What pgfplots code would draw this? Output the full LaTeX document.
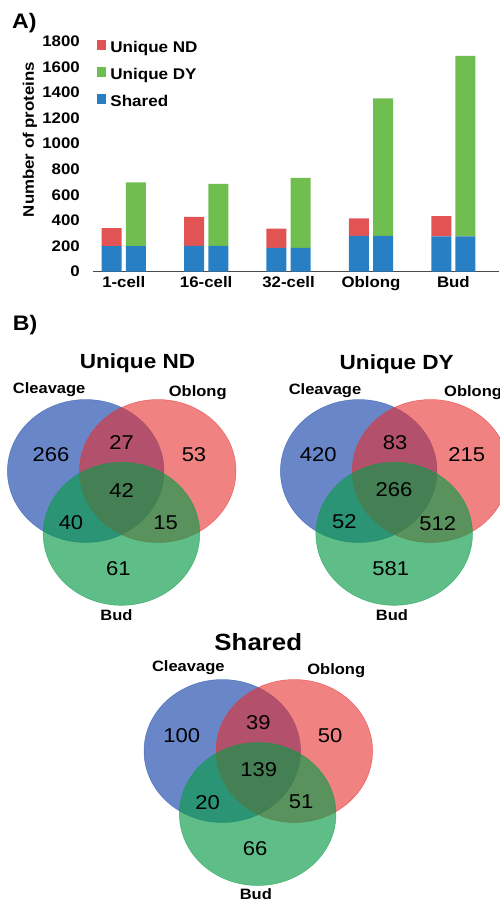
\documentclass[border=0pt]{standalone}
\usepackage{pgfplots}
\usepackage{pgfplotstable}
\pgfplotsset{compat=1.18}
\usepackage{fontspec}
\setmainfont{Liberation Sans}[FakeStretch=1.1]
\definecolor{barred}{RGB}{226,84,84}
\definecolor{bargreen}{RGB}{112,190,80}
\definecolor{barblue}{RGB}{40,127,196}
\definecolor{vblue}{RGB}{41,84,176}
\definecolor{vred}{RGB}{230,47,47}
\definecolor{vgreen}{RGB}{9,155,71}

\pgfplotstableread{
x shared nd dy
0 199 141 498
1 202 226 484
2 186 151 547
3 279 137 1076
4 276 158 1411
}\bars

\pgfplotsset{
  barax/.style={
    scale only axis, width=405.4pt, height=230.4pt,
    at={(93.3pt,-271.7pt)}, anchor=south west,
    xmin=-0.37, xmax=4.55, ymin=0, ymax=1800,
    ybar stacked, bar width=20pt,
    axis x line*=bottom, axis y line*=left,
    y axis line style={draw=none},
    x axis line style={draw=black!70, line width=0.8pt},
    tick style={draw=none},
    xtick={0,...,4}, xticklabels={1-cell,16-cell,32-cell,Oblong,Bud},
    ytick={0,200,...,1800},
    /pgf/number format/1000 sep={},
    /pgf/number format/assume math mode=true,
    yticklabel style={anchor=east, inner sep=0pt, xshift=-13.3pt, font=\fontsize{15.3}{18}\selectfont\bfseries},
    xticklabel style={anchor=base, inner sep=0pt, yshift=-15.6pt, font=\fontsize{15.3}{18}\selectfont\bfseries},
  },
}
\tikzset{
  vnum/.style={inner sep=0pt, font=\fontsize{20}{23}\selectfont},
  vlab/.style={inner sep=0pt, anchor=base, font=\fontsize{15}{18}\selectfont\bfseries},
  vtitle/.style={inner sep=0pt, anchor=base, font=\fontsize{20.5}{24}\selectfont\bfseries},
}

\begin{document}
\begin{tikzpicture}
% ---------------- Panel A ----------------
\begin{axis}[barax, bar shift=-12.1pt]
  \addplot[fill=barblue, draw=none] table[x=x, y=shared] {\bars};
  \addplot[fill=barred, draw=none] table[x=x, y=nd] {\bars};
\end{axis}
\begin{axis}[barax, bar shift=12.1pt, hide axis,
    legend image code/.code={\fill[#1] (0pt,-1pt) rectangle (9.5pt,8.5pt);},
    legend cell align=left,
    legend style={at={(axis description cs:0.0084,1.005)}, anchor=north west,
      draw=none, fill=none, inner sep=0pt,
      nodes={inner sep=0pt, text height=11pt, text depth=3.5pt},
      row sep=11.2pt,
      /tikz/every odd column/.append style={column sep=4pt},
      font=\fontsize{15.5}{18}\selectfont\bfseries}]
  \addplot[fill=barblue, draw=none, forget plot] table[x=x, y=shared] {\bars};
  \addplot[fill=bargreen, draw=none, forget plot] table[x=x, y=dy] {\bars};
  \addlegendimage{fill=barred, draw=none}
  \addlegendentry{Unique ND}
  \addlegendimage{fill=bargreen, draw=none}
  \addlegendentry{Unique DY}
  \addlegendimage{fill=barblue, draw=none}
  \addlegendentry{Shared}
\end{axis}
\node[rotate=90, inner sep=0pt, font=\fontsize{15.3}{18}\selectfont\bfseries] at (30pt,-139.5pt) {Number of proteins};
\node[anchor=base west, inner sep=0pt, font=\fontsize{21}{24}\selectfont\bfseries] at (12pt,-28.5pt) {A)};
\node[anchor=base west, inner sep=0pt, font=\fontsize{21}{24}\selectfont\bfseries] at (12.7pt,-330pt) {B)};

% ---------------- Panel B ----------------
\begin{axis}[scale only axis, width=499pt, height=902pt, at={(0pt,0pt)}, anchor=north west,
    xmin=0, xmax=499, ymin=0, ymax=902, y dir=reverse, hide axis, clip=false]
  % Unique ND
  \fill[vblue, fill opacity=0.7, draw=vblue, draw opacity=0.6, line width=0.5pt] (axis cs:85.7,471) ellipse [x radius=78.3pt, y radius=71.5pt];
  \fill[vred, fill opacity=0.6, draw=vred, draw opacity=0.6, line width=0.5pt] (axis cs:157.7,471) ellipse [x radius=78.3pt, y radius=71.5pt];
  \fill[vgreen, fill opacity=0.65, draw=vgreen, draw opacity=0.6, line width=0.5pt] (axis cs:121.5,533.8) ellipse [x radius=78.3pt, y radius=71.5pt];
  % Unique DY
  \fill[vblue, fill opacity=0.7, draw=vblue, draw opacity=0.6, line width=0.5pt] (axis cs:358.7,471) ellipse [x radius=78.3pt, y radius=71.5pt];
  \fill[vred, fill opacity=0.6, draw=vred, draw opacity=0.6, line width=0.5pt] (axis cs:430.5,471) ellipse [x radius=78.3pt, y radius=71.5pt];
  \fill[vgreen, fill opacity=0.65, draw=vgreen, draw opacity=0.6, line width=0.5pt] (axis cs:394.2,533.8) ellipse [x radius=78.3pt, y radius=71.5pt];
  % Shared
  \fill[vblue, fill opacity=0.7, draw=vblue, draw opacity=0.6, line width=0.5pt] (axis cs:222.3,751) ellipse [x radius=78.3pt, y radius=71.5pt];
  \fill[vred, fill opacity=0.6, draw=vred, draw opacity=0.6, line width=0.5pt] (axis cs:294.3,751) ellipse [x radius=78.3pt, y radius=71.5pt];
  \fill[vgreen, fill opacity=0.65, draw=vgreen, draw opacity=0.6, line width=0.5pt] (axis cs:257.7,814) ellipse [x radius=78.3pt, y radius=71.5pt];

  % titles and set labels
  \node[vtitle] at (axis cs:137.5,368.5) {Unique ND};
  \node[vtitle] at (axis cs:396.7,369) {Unique DY};
  \node[vtitle, font=\fontsize{23.5}{27}\selectfont\bfseries] at (axis cs:258.3,650) {Shared};

  \node[vlab] at (axis cs:49.2,393.8) {Cleavage};
  \node[vlab] at (axis cs:197.7,396) {Oblong};
  \node[vlab] at (axis cs:116.5,620.5) {Bud};
  \node[vlab] at (axis cs:325,394.3) {Cleavage};
  \node[vlab, anchor=base west] at (axis cs:444,396) {Oblong};
  \node[vlab] at (axis cs:392,620.5) {Bud};
  \node[vlab] at (axis cs:188.3,671.7) {Cleavage};
  \node[vlab] at (axis cs:336.2,674) {Oblong};
  \node[vlab] at (axis cs:255.8,899) {Bud};

  % counts
  \node[vnum] at (axis cs:51,455) {266};
  \node[vnum] at (axis cs:121.7,442.7) {27};
  \node[vnum] at (axis cs:194,455) {53};
  \node[vnum] at (axis cs:121.7,490.7) {42};
  \node[vnum] at (axis cs:71,522.7) {40};
  \node[vnum] at (axis cs:165.7,522.7) {15};
  \node[vnum] at (axis cs:118.3,568.3) {61};

  \node[vnum] at (axis cs:318.3,455) {420};
  \node[vnum] at (axis cs:395,442.7) {83};
  \node[vnum] at (axis cs:466.7,455) {215};
  \node[vnum] at (axis cs:394,490) {266};
  \node[vnum] at (axis cs:344.3,521.7) {52};
  \node[vnum] at (axis cs:437.7,523.3) {512};
  \node[vnum] at (axis cs:390.7,568.3) {581};

  \node[vnum] at (axis cs:181.7,736) {100};
  \node[vnum] at (axis cs:258.3,722.7) {39};
  \node[vnum] at (axis cs:330,736) {50};
  \node[vnum] at (axis cs:258.7,770) {139};
  \node[vnum] at (axis cs:207.7,802.3) {20};
  \node[vnum] at (axis cs:301,802) {51};
  \node[vnum] at (axis cs:255,848.3) {66};
\end{axis}
\pgfresetboundingbox
\path (0pt,0pt) rectangle (499pt,-902pt);
\end{tikzpicture}
\end{document}
